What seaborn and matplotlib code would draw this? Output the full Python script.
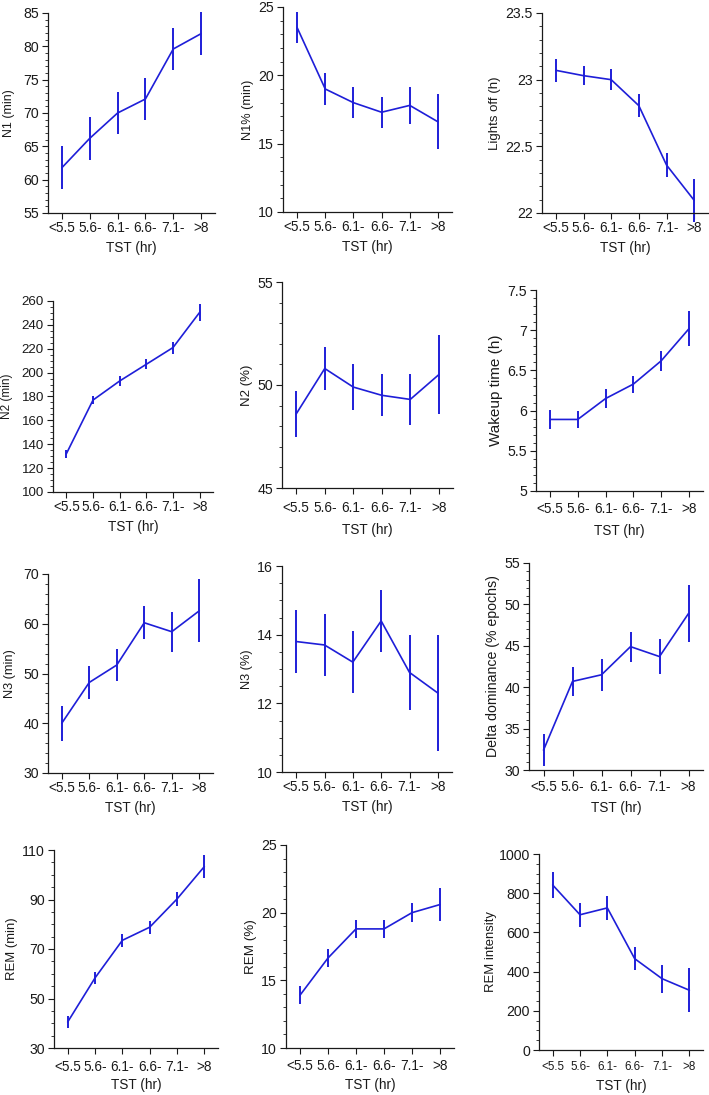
import matplotlib
matplotlib.use("Agg")
import matplotlib.pyplot as plt
from matplotlib.ticker import FixedLocator, MultipleLocator, FuncFormatter
import seaborn as sns
import pandas as pd

# ---------------- data ----------------
categories = ["<5.5", "5.6-", "6.1-", "6.6-", "7.1-", ">8"]

n1_min = [61.8, 66.2, 70.0, 72.1, 79.6, 81.9]
n1_min_err = [3.2, 3.2, 3.2, 3.2, 3.2, 3.25]
n1_pct = [23.5, 19.0, 18.0, 17.3, 17.8, 16.6]
n1_pct_err = [1.15, 1.15, 1.15, 1.15, 1.33, 2.0]
lights_off = [23.07, 23.03, 23.0, 22.805, 22.36, 22.095]
lights_off_err = [0.085, 0.073, 0.08, 0.085, 0.09, 0.16]

n2_min = [132, 177, 193, 207, 221, 250.5]
n2_min_err = [3.5, 3.6, 4, 4, 5, 7]
n2_pct = [48.6, 50.8, 49.9, 49.5, 49.3, 50.5]
n2_pct_err = [1.1, 1.03, 1.1, 1.02, 1.22, 1.93]
wakeup = [5.89, 5.89, 6.15, 6.33, 6.62, 7.02]
wakeup_err = [0.115, 0.11, 0.115, 0.105, 0.125, 0.215]

n3_min = [40.0, 48.2, 51.7, 60.2, 58.4, 62.6]
n3_min_err = [3.5, 3.3, 3.3, 3.35, 4.0, 6.3]
n3_pct = [13.8, 13.7, 13.2, 14.4, 12.9, 12.3]
n3_pct_err = [0.91, 0.91, 0.91, 0.91, 1.1, 1.7]
delta_dom = [32.4, 40.7, 41.5, 44.9, 43.7, 48.9]
delta_dom_err = [1.9, 1.8, 1.95, 1.8, 2.15, 3.45]

rem_min = [40.5, 58.3, 73.5, 78.8, 90.2, 103.3]
rem_min_err = [2.6, 2.5, 2.5, 2.6, 3.0, 4.6]
rem_pct = [13.9, 16.65, 18.8, 18.8, 20.0, 20.6]
rem_pct_err = [0.68, 0.64, 0.67, 0.67, 0.72, 1.2]
rem_int = [842, 690, 725, 466, 364, 305]
rem_int_err = [66, 60, 63, 60, 71, 112]

xlabel = "TST (hr)"

# y tick labels per panel
ticks_n1_min = [55, 60, 65, 70, 75, 80, 85]
ticks_n1_pct = [10, 15, 20, 25]
ticks_lights = [22, 22.5, 23, 23.5]
ticks_n2_min = [100, 120, 140, 160, 180, 200, 220, 240, 260]
ticks_n2_pct = [45, 50, 55]
ticks_wakeup = [5, 5.5, 6, 6.5, 7, 7.5]
ticks_n3_min = [30, 40, 50, 60, 70]
ticks_n3_pct = [10, 12, 14, 16]
ticks_delta = [30, 35, 40, 45, 50, 55]
ticks_rem_min = [30, 50, 70, 90, 110]
ticks_rem_pct = [10, 15, 20, 25]
ticks_rem_int = [0, 200, 400, 600, 800, 1000]

# (ylabel, values, errors, y ticks, minor step)
panels = [
    ("N1 (min)", n1_min, n1_min_err, ticks_n1_min, 1),
    ("N1% (min)", n1_pct, n1_pct_err, ticks_n1_pct, 1),
    ("Lights off (h)", lights_off, lights_off_err, ticks_lights, 0.1),
    ("N2 (min)", n2_min, n2_min_err, ticks_n2_min, 5),
    ("N2 (%)", n2_pct, n2_pct_err, ticks_n2_pct, 1),
    ("Wakeup time (h)", wakeup, wakeup_err, ticks_wakeup, 0.1),
    ("N3 (min)", n3_min, n3_min_err, ticks_n3_min, 2),
    ("N3 (%)", n3_pct, n3_pct_err, ticks_n3_pct, 0.5),
    ("Delta dominance (% epochs)", delta_dom, delta_dom_err, ticks_delta, 1),
    ("REM (min)", rem_min, rem_min_err, ticks_rem_min, 5),
    ("REM (%)", rem_pct, rem_pct_err, ticks_rem_pct, 1),
    ("REM intensity", rem_int, rem_int_err, ticks_rem_int, 50),
]

# ---------------- layout / style ----------------
# axes boxes in pixels: left, top, right, bottom
boxes = [
    (48, 13, 215, 213), (283, 7, 452, 212), (542, 13, 708, 213),
    (53, 301, 213, 492), (282, 282, 453, 488), (536, 290, 703, 491),
    (48, 574, 213, 773), (282, 566, 452, 772), (529, 563, 703, 770),
    (54, 850, 218, 1048), (286, 845, 454, 1048), (539, 854, 703, 1050),
]
ylabel_sizes = [8.9, 9.2, 9.5, 8.5, 9.5, 11.0, 9.2, 9.2, 10.2, 9.4, 9.6, 9.4]
ylabel_pads = [6, 3, 3, 6, 3, 3, 5, 3, 3, 3, 3, 1]
xtick_sizes = [9.8, 9.8, 9.8, 9.8, 9.8, 9.8, 9.8, 9.8, 9.8, 9.8, 9.8, 8.4]
xtick_pads = [2, 2, 2, 2, 5, 4, 2, 2, 3.5, 4.5, 4, 4]
xlabel_pads = [4, 4, 4, 4, 6, 5.5, 4, 4, 4.5, 3.2, 3.5, 4.5]
ytick_sizes = [10.2, 10.2, 10.2, 9.6, 10.2, 10.2, 10.2, 10.2, 10.2, 10.2, 10.2, 10.2]

W, H = 709, 1095
sns.set_theme(style="ticks")
plt.rcParams["font.family"] = ["Liberation Sans", "DejaVu Sans"]

fig = plt.figure(figsize=(W / 100, H / 100), dpi=100)
color = "#1e1ed8"
txt = "#1a1a1a"

for i, ((ylab, vals, errs, yticks, minor), (l, t, r, b)) in enumerate(zip(panels, boxes)):
    ax = fig.add_axes([l / W, 1 - b / H, (r - l) / W, (b - t) / H])
    df = pd.DataFrame({"cat": categories, "val": vals})
    sns.lineplot(data=df, x="cat", y="val", ax=ax, color=color, lw=1.2,
                 sort=False, errorbar=None)
    ax.errorbar(range(len(categories)), vals, yerr=errs, fmt="none",
                ecolor=color, elinewidth=1.4, capsize=0, clip_on=False)
    ax.set_xlim(-0.5, len(categories) - 0.5)
    ax.set_ylim(yticks[0], yticks[-1])
    ax.yaxis.set_major_locator(FixedLocator(yticks))
    ax.yaxis.set_minor_locator(MultipleLocator(minor))
    ax.yaxis.set_major_formatter(FuncFormatter(lambda v, p: "%g" % round(v, 3)))
    ax.set_xticks(range(len(categories)))
    ax.set_xticklabels(categories, fontsize=xtick_sizes[i])
    ax.tick_params(axis="y", which="major", length=4, width=0.8,
                   labelsize=ytick_sizes[i], pad=2.5, colors=txt)
    ax.tick_params(axis="y", which="minor", length=2, width=0.6, colors=txt)
    ax.tick_params(axis="x", which="major", length=4, width=0.8,
                   pad=xtick_pads[i], colors=txt)
    ax.set_ylabel(ylab, fontsize=ylabel_sizes[i], labelpad=ylabel_pads[i], color=txt)
    ax.set_xlabel(xlabel, fontsize=9.8, labelpad=xlabel_pads[i], color=txt)
    for s in ("top", "right"):
        ax.spines[s].set_visible(False)
    for s in ("left", "bottom"):
        ax.spines[s].set_linewidth(0.9)
        ax.spines[s].set_color(txt)
    ax.set_facecolor("none")

fig.savefig("out.png", dpi=100, facecolor="white")
